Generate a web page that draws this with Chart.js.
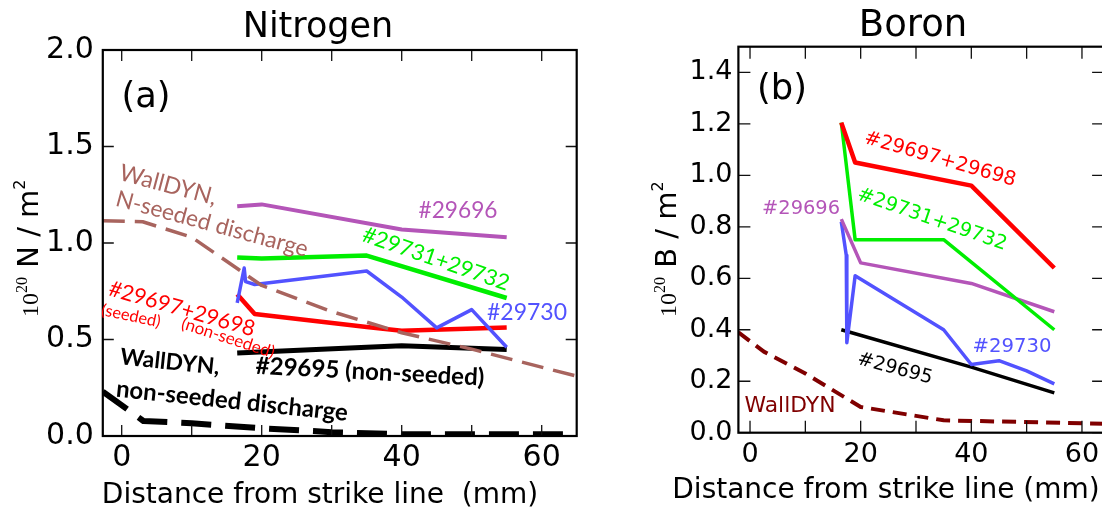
<!DOCTYPE html>
<html>
<head>
<meta charset="utf-8">
<script src="https://cdn.jsdelivr.net/npm/chart.js@4/dist/chart.umd.min.js"></script>
<style>
  html, body { margin: 0; padding: 0; background: #fff; overflow: hidden; width: 1102px; height: 511px; }
  .panel { position: absolute; top: 0; }
</style>
</head>
<body>
<div class="panel" style="left:0px"><canvas id="nChart" width="600" height="511"></canvas></div>
<div class="panel" style="left:620px"><canvas id="bChart" width="490" height="511"></canvas></div>
<script>
// ---------- Nitrogen (a) ----------
const nX29696 = [16.5, 20, 40, 55];
const nY29696 = [1.19, 1.20, 1.07, 1.03];
const nX29731 = [16.5, 20, 35, 55];
const nY29731 = [0.925, 0.92, 0.935, 0.715];
const nX29730 = [16.5, 17.5, 17.7, 19, 35, 40, 45, 50, 55];
const nY29730 = [0.69, 0.87, 0.80, 0.785, 0.855, 0.72, 0.56, 0.655, 0.46];
const nX29697 = [16.5, 19, 35, 40, 55];
const nY29697 = [0.735, 0.632, 0.565, 0.545, 0.562];
const nX29695 = [16.5, 35, 40, 55];
const nY29695 = [0.43, 0.46, 0.468, 0.448];
const nXWallSeeded = [-2.7, 3, 10, 20, 30, 40, 50, 65];
const nYWallSeeded = [1.115, 1.11, 1.03, 0.78, 0.645, 0.535, 0.45, 0.31];
const nXWallPlain = [-2.7, 3.1, 10, 20, 30, 40, 65];
const nYWallPlain = [0.23, 0.078, 0.066, 0.04, 0.02, 0.009, 0.009];
const nXTicks = [0, 20, 40, 60];
const nXMinor = [0, 10, 20, 30, 40, 50, 60];
const nYTicks = [0.0, 0.5, 1.0, 1.5, 2.0];

// ---------- Boron (b) ----------
const bX29697 = [16.5, 19, 40, 55];
const bY29697 = [1.205, 1.05, 0.96, 0.64];
const bX29731 = [16.5, 19, 35, 55];
const bY29731 = [1.205, 0.75, 0.75, 0.40];
const bX29696 = [16.5, 20, 40, 55];
const bY29696 = [0.83, 0.66, 0.58, 0.47];
const bX29730 = [16.5, 17.4, 17.5, 19, 35, 40, 45, 50, 55];
const bY29730 = [0.82, 0.69, 0.35, 0.61, 0.40, 0.265, 0.28, 0.24, 0.19];
const bX29695 = [16.5, 40, 55];
const bY29695 = [0.40, 0.255, 0.155];
const bXWall = [-2.1, 2.5, 10, 20, 35, 64];
const bYWall = [0.39, 0.315, 0.23, 0.10, 0.048, 0.035];
const bXTicks = [0, 20, 40, 60];
const bXMinor = [0, 10, 20, 30, 40, 50, 60];
const bYTicks = [0.0, 0.2, 0.4, 0.6, 0.8, 1.0, 1.2, 1.4];

const PURPLE = '#b455b8', GREEN = '#00ee00', BLUE = '#5252ff', RED = '#ff0000',
      BROWN = '#a8645e', DARKRED = '#800000', BLACK = '#000000';
const SANS = '"DejaVu Sans", sans-serif';
const LEFT_NOTE_FONT = 'Lato, "Open Sans", sans-serif';

function pts(xs, ys) { return xs.map((x, i) => ({ x: x, y: ys[i] })); }
function line(xs, ys, color, width, dash) {
  return {
    data: pts(xs, ys), borderColor: color, borderWidth: width,
    borderDash: dash || [], pointRadius: 0, tension: 0, fill: false,
    borderCapStyle: 'butt', borderJoinStyle: 'round'
  };
}

// frame, inward ticks, titles, rotated labels drawn on top of the data
const decorPlugin = {
  id: 'decor',
  afterDatasetsDraw(chart, args, o) {
    const ctx = chart.ctx, a = chart.chartArea;
    const sx = chart.scales.x, sy = chart.scales.y;
    ctx.save();
    // tick marks pointing inward
    ctx.strokeStyle = '#111'; ctx.lineWidth = 1.3;
    ctx.beginPath();
    o.xMinor.forEach(v => {
      const p = sx.getPixelForValue(v);
      ctx.moveTo(p, a.bottom); ctx.lineTo(p, a.bottom - o.tickLen);
      ctx.moveTo(p, a.top); ctx.lineTo(p, a.top + o.tickLen);
    });
    o.yMinor.forEach(v => {
      const p = sy.getPixelForValue(v);
      ctx.moveTo(a.left, p); ctx.lineTo(a.left + o.tickLen, p);
      ctx.moveTo(a.right, p); ctx.lineTo(a.right - o.tickLen, p);
    });
    ctx.stroke();
    // frame
    ctx.strokeStyle = '#000'; ctx.lineWidth = 2.2;
    ctx.strokeRect(a.left, a.top, a.right - a.left, a.bottom - a.top);

    // title
    ctx.fillStyle = '#000';
    ctx.textAlign = 'center'; ctx.textBaseline = 'alphabetic';
    ctx.font = o.title.size + 'px ' + SANS;
    ctx.fillText(o.title.text, o.title.x, o.title.y);
    // x axis title
    ctx.font = o.xTitle.size + 'px ' + SANS;
    ctx.fillText(o.xTitle.text, o.xTitle.x, o.xTitle.y);

    // y axis title: 10^20 <sym> / m^2, rotated
    ctx.save();
    ctx.translate(o.yTitle.x, o.yTitle.y);
    ctx.rotate(-Math.PI / 2);
    ctx.textAlign = 'left';
    let cx = 0;
    const parts = [
      ['10', '24px "Liberation Serif", serif', 0],
      ['20', '16px "Liberation Serif", serif', 11],
      [' ' + o.yTitle.sym + ' / m', '29px ' + SANS, 0],
      ['2', '16px ' + SANS, 13]
    ];
    parts.forEach(p => {
      ctx.font = p[1];
      ctx.fillText(p[0], cx, -p[2]);
      cx += ctx.measureText(p[0]).width;
    });
    ctx.restore();

    // text notes placed in data coordinates
    o.notes.forEach(n => {
      const px = sx.getPixelForValue(n.x), py = sy.getPixelForValue(n.y);
      const weight = n.bold ? 'bold ' : '';
      const family = n.font || SANS;
      ctx.font = weight + '20px ' + family;
      const size = 20 * n.w / ctx.measureText(n.text).width;
      ctx.font = weight + size.toFixed(2) + 'px ' + family;
      ctx.save();
      ctx.translate(px, py);
      ctx.rotate((n.rot || 0) * Math.PI / 180);
      ctx.fillStyle = n.color;
      ctx.textAlign = 'center'; ctx.textBaseline = 'middle';
      ctx.fillText(n.text, 0, 0);
      ctx.restore();
    });
    ctx.restore();
  }
};

function makeChart(id, cfg) {
  return new Chart(document.getElementById(id), {
    type: 'line',
    data: { datasets: cfg.datasets },
    options: {
      responsive: false, animation: false, events: [],
      layout: { padding: cfg.padding },
      plugins: { legend: { display: false }, tooltip: { enabled: false }, decor: cfg.decor },
      scales: {
        x: {
          type: 'linear', min: cfg.xMin, max: cfg.xMax,
          afterBuildTicks: s => { s.ticks = cfg.xTicks.map(v => ({ value: v })); },
          afterFit: s => { s.height = cfg.xAxisH; },
          grid: { display: false, drawTicks: false }, border: { display: false },
          ticks: { color: '#000', font: { family: SANS, size: cfg.tickSize }, padding: cfg.xPad,
                   maxRotation: 0, autoSkip: false, callback: v => String(v) }
        },
        y: {
          type: 'linear', min: 0, max: cfg.yMax,
          afterBuildTicks: s => { s.ticks = cfg.yTicks.map(v => ({ value: v })); },
          afterFit: s => { s.width = cfg.yAxisW; },
          grid: { display: false, drawTicks: false }, border: { display: false },
          ticks: { color: '#000', font: { family: SANS, size: cfg.tickSize }, padding: cfg.yPad,
                   autoSkip: false, callback: v => v.toFixed(1) }
        }
      }
    },
    plugins: [decorPlugin]
  });
}

makeChart('nChart', {
  datasets: [
    line(nXWallSeeded, nYWallSeeded, BROWN, 3.5, [22, 10]),
    line(nXWallPlain, nYWallPlain, BLACK, 6, [30, 14]),
    line(nX29696, nY29696, PURPLE, 4),
    line(nX29731, nY29731, GREEN, 4.5),
    line(nX29730, nY29730, BLUE, 3.5),
    line(nX29697, nY29697, RED, 4.5),
    line(nX29695, nY29695, BLACK, 5)
  ],
  xMin: -2.7, xMax: 65, yMax: 2.0, xTicks: nXTicks, yTicks: nYTicks,
  padding: { top: 50, right: 23.3, bottom: 0, left: 0 },
  yAxisW: 102.8, xAxisH: 75, tickSize: 30, xPad: 4, yPad: 9,
  decor: {
    tickLen: 11, xMinor: nXMinor, yMinor: nYTicks,
    title: { text: 'Nitrogen', size: 35, x: 318, y: 37 },
    xTitle: { text: 'Distance from strike line  (mm)', size: 28, x: 320, y: 503 },
    yTitle: { sym: 'N', x: 38, y: 317 },
    notes: [
      { text: '(a)', x: 3.47, y: 1.751, w: 49, color: BLACK },
      { text: 'WallDYN,', x: 6.63, y: 1.30, rot: 15, w: 100, color: BROWN, font: LEFT_NOTE_FONT },
      { text: 'N-seeded discharge', x: 12.9, y: 1.098, rot: 15, w: 198, color: BROWN, font: LEFT_NOTE_FONT },
      { text: '#29696', x: 48.04, y: 1.166, w: 79, color: PURPLE, font: LEFT_NOTE_FONT },
      { text: '#29731+29732', x: 44.9, y: 0.917, rot: 19, w: 154, color: GREEN, font: LEFT_NOTE_FONT },
      { text: '#29730', x: 57.9, y: 0.642, w: 80, color: BLUE, font: LEFT_NOTE_FONT },
      { text: '#29697+29698', x: 8.61, y: 0.658, rot: 16, w: 151, color: RED, font: LEFT_NOTE_FONT },
      { text: '(seeded)', x: 1.33, y: 0.622, rot: 12, w: 60, color: RED, font: LEFT_NOTE_FONT },
      { text: '(non-seeded)', x: 15.19, y: 0.508, rot: 18, w: 97, color: RED, font: LEFT_NOTE_FONT },
      { text: '#29695 (non-seeded)', x: 35.47, y: 0.332, rot: 3, w: 229, color: BLACK, bold: true, font: LEFT_NOTE_FONT },
      { text: 'WallDYN,', x: 6.9, y: 0.383, rot: 6, w: 100, color: BLACK, bold: true, font: LEFT_NOTE_FONT },
      { text: 'non-seeded discharge', x: 15.76, y: 0.181, rot: 6, w: 233, color: BLACK, bold: true, font: LEFT_NOTE_FONT }
    ]
  }
});

makeChart('bChart', {
  datasets: [
    line(bXWall, bYWall, DARKRED, 4, [14, 8]),
    line(bX29697, bY29697, RED, 4.5),
    line(bX29731, bY29731, GREEN, 3.5),
    line(bX29696, bY29696, PURPLE, 3.5),
    line(bX29730, bY29730, BLUE, 3.5),
    line(bX29695, bY29695, BLACK, 3.5)
  ],
  xMin: -2.1, xMax: 64, yMax: 1.5, xTicks: bXTicks, yTicks: bYTicks,
  padding: { top: 46.7, right: 5.9, bottom: 0, left: 0 },
  yAxisW: 118.4, xAxisH: 78.3, tickSize: 27, xPad: 6, yPad: 6,
  decor: {
    tickLen: 12, xMinor: bXMinor, yMinor: bYTicks,
    title: { text: 'Boron', size: 37, x: 293, y: 36 },
    xTitle: { text: 'Distance from strike line (mm)', size: 28, x: 266, y: 498 },
    yTitle: { sym: 'B', x: 56, y: 317 },
    notes: [
      { text: '(b)', x: 5.78, y: 1.331, w: 50, color: BLACK },
      { text: '#29697+29698', x: 34.34, y: 1.062, rot: 16, w: 157, color: RED },
      { text: '#29731+29732', x: 32.9, y: 0.828, rot: 19, w: 157, color: GREEN },
      { text: '#29696', x: 9.22, y: 0.871, w: 78, color: PURPLE },
      { text: '#29730', x: 47.35, y: 0.334, w: 79, color: BLUE },
      { text: '#29695', x: 26.2, y: 0.248, rot: 15, w: 77, color: BLACK },
      { text: 'WallDYN', x: 7.23, y: 0.104, w: 91, color: DARKRED }
    ]
  }
});
</script>
</body>
</html>
